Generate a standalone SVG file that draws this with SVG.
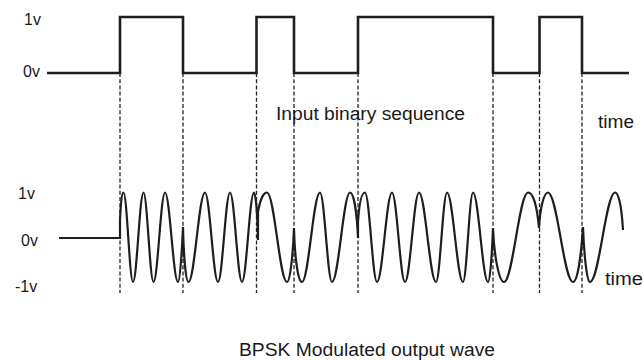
<svg xmlns="http://www.w3.org/2000/svg" width="644" height="360" viewBox="0 0 644 360">
  <style>
    .t { font-family: "Liberation Sans", Arial, sans-serif; fill: #1a1a1a; }
    .lbl { font-size: 16px; }
    .cap { font-size: 18px; }
    .sig { fill: none; stroke: #1e1e1e; stroke-linejoin: miter; }
    .dash { stroke: #222; stroke-width: 1.3; stroke-dasharray: 4 2.2; fill: none; }
  </style>
  <rect width="644" height="360" fill="#fff"/>

  <g id="input-labels">
    <text class="t lbl" x="24" y="25">1v</text>
    <text class="t lbl" x="23" y="77">0v</text>
  </g>

  <g id="input-signal">
    <path class="sig" stroke-width="2.6" d="M47,73 H120 V17 H183 V73 H256.5 V17 H294 V73 H358 V17 H493 V73 H539.5 V17 H582 V73 H629"/>
  </g>

  <g id="bit-boundaries">
    <line class="dash" x1="120" y1="73" x2="120" y2="293"/>
    <line class="dash" x1="183" y1="73" x2="183" y2="293"/>
    <line class="dash" x1="256.5" y1="73" x2="256.5" y2="293"/>
    <line class="dash" x1="294" y1="73" x2="294" y2="293"/>
    <line class="dash" x1="358" y1="73" x2="358" y2="293"/>
    <line class="dash" x1="493" y1="73" x2="493" y2="293"/>
    <line class="dash" x1="539.5" y1="73" x2="539.5" y2="293"/>
    <line class="dash" x1="582" y1="73" x2="582" y2="293"/>
  </g>

  <g id="input-caption">
    <text class="t cap" x="276" y="120" textLength="189" lengthAdjust="spacingAndGlyphs">Input binary sequence</text>
    <text class="t cap" x="598" y="128" textLength="36" lengthAdjust="spacingAndGlyphs">time</text>
  </g>

  <g id="output-labels">
    <text class="t lbl" x="18" y="199">1v</text>
    <text class="t lbl" x="21" y="246">0v</text>
    <text class="t lbl" x="15" y="292">-1v</text>
  </g>

  <g id="bpsk-wave">
    <path class="sig" stroke-width="2.2" d="M59,238 H120 L120,220 C121,201 122,192.5 123.5,192.5
      C126.96,192.5 129.54,282 133,282
      C136.82,282 139.68,192.5 143.5,192.5
      C147.14,192.5 149.86,282 153.5,282
      C157.69,282 160.81,192.5 165,192.5
      C169.73,192.5 173.27,282 178,282
      C180,282 182,250 183,227
      C183.6,252 185.5,282 188.5,282
      C194.5,282 199,192.5 205,192.5
      C209.73,192.5 213.27,282 218,282
      C222.37,282 225.63,192.5 230,192.5
      C234.37,192.5 237.63,282 242,282
      C246.37,282 249.63,192.5 254,192.5
      C255.6,192.5 257.4,212 258,240
      L258,212
      C260,200 263.5,192.5 267,192.5
      C274.28,192.5 279.72,282 287,282
      C290,282 293,255 294,228
      C294.8,258 298,282 302,282
      C308.55,282 313.45,192.5 320,192.5
      C324.37,192.5 327.63,282 332,282
      C338.55,282 343.45,192.5 350,192.5
      C354,192.5 357,215 358,238
      L358,222
      C359.5,200 362,192.5 365,192.5
      C369.37,192.5 372.63,282 377,282
      C382.46,282 386.54,192.5 392,192.5
      C396.73,192.5 400.27,282 405,282
      C410.1,282 413.9,192.5 419,192.5
      C425.19,192.5 429.81,282 436,282
      C440,282 443,192.5 447,192.5
      C452.82,192.5 457.18,282 463,282
      C466.64,282 469.36,192.5 473,192.5
      C478.46,192.5 482.54,282 488,282
      C490,282 492,255 493,228
      C494,255 499,282 504,282
      C512.74,282 519.26,192.5 528,192.5
      C533,192.5 537,205 539,228
      C540,208 544,192.5 548,192.5
      C557.1,192.5 563.9,282 573,282
      C578,282 581.5,250 583,227
      C584,255 587,282 590,282
      C599.1,282 605.9,192.5 615,192.5
      C618.5,192.5 621.5,205 623,230"/>
  </g>

  <g id="output-caption">
    <text class="t cap" x="605" y="285" textLength="38" lengthAdjust="spacingAndGlyphs">time</text>
    <text class="t cap" x="239" y="356" textLength="256" lengthAdjust="spacingAndGlyphs">BPSK Modulated output wave</text>
  </g>
</svg>
